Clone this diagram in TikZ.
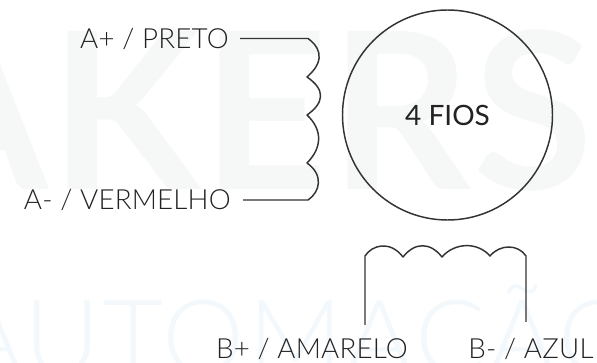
\documentclass[tikz,border=0pt]{standalone}
\usepackage{fontspec}
\setmainfont{Lato}[UprightFont=* Light]
\newfontfamily\wmbold{Lato}[UprightFont=* Bold,LetterSpace=1]
\newfontfamily\wmlight{Lato}[UprightFont=* Light,LetterSpace=3]
\newfontfamily\motorfont{Lato}
\definecolor{wmgray}{HTML}{F6F7F7}
\definecolor{wmblue}{HTML}{F2F8FB}
\definecolor{wire}{HTML}{333333}
\definecolor{ink}{HTML}{222222}
\tikzset{
  label text/.style={font=\fontsize{20.8}{24}\selectfont\addfontfeature{LetterSpace=0.7},text=ink,inner sep=0pt},
  wirepath/.style={draw=wire,line width=1.1pt,line join=round},
  wm/.style={inner sep=0pt}
}
\begin{document}
\begin{tikzpicture}[x=0.75pt,y=-0.75pt]
\useasboundingbox (0,0) rectangle (597,363);
\fill[white] (0,0) rectangle (597,363);
\begin{scope}
\clip (0,0) rectangle (597,363);
\node[wm,anchor=base,text=wmgray] (wma) at (245,190) {\fontsize{164}{170}\selectfont\wmbold AKERS};
\node[wm,anchor=base,text=wmblue] (wmb) at (298,375) {\fontsize{78}{80}\selectfont\wmlight AUTOMAÇÃO};
\end{scope}
% labels
\node[label text,anchor=east] (ap) at (229,38.5) {A+ / PRETO};
\node[label text,anchor=east] (am) at (231,199.5) {A- / VERMELHO};
\node[label text,anchor=center] (bp) at (312,349) {B+ / AMARELO};
\node[label text,anchor=center] (bm) at (531,349) {B- / AZUL};
% motor
\node[draw=wire,line width=1.1pt,circle,minimum size=157.5pt,inner sep=0pt,label text,font=\fontsize{21}{24}\selectfont\motorfont] (motor) at (447.5,115) {4 FIOS};
% wire ends
\coordinate (apw) at (240,38.5);
\coordinate (amw) at (243,200);
\coordinate (bpw) at (365,325);
\coordinate (bmw) at (526,322);
% coil A
\draw[wirepath] (apw) -- (308,38.5)
  .. controls (316,44) and (329,58) .. (307,77)
  .. controls (326,90) and (324,103) .. (307,115)
  .. controls (323,130) and (322,148) .. (307,163)
  .. controls (324,175) and (320,192) .. (308,200)
  -- (amw);
% coil B
\draw[wirepath] (bpw) -- (365,256)
  .. controls (372,245) and (390,240) .. (403,257)
  .. controls (415,242) and (430,242) .. (442,257)
  .. controls (455,242) and (478,242) .. (490,256)
  .. controls (500,244) and (518,244) .. (526,256)
  -- (bmw);
\end{tikzpicture}
\end{document}
